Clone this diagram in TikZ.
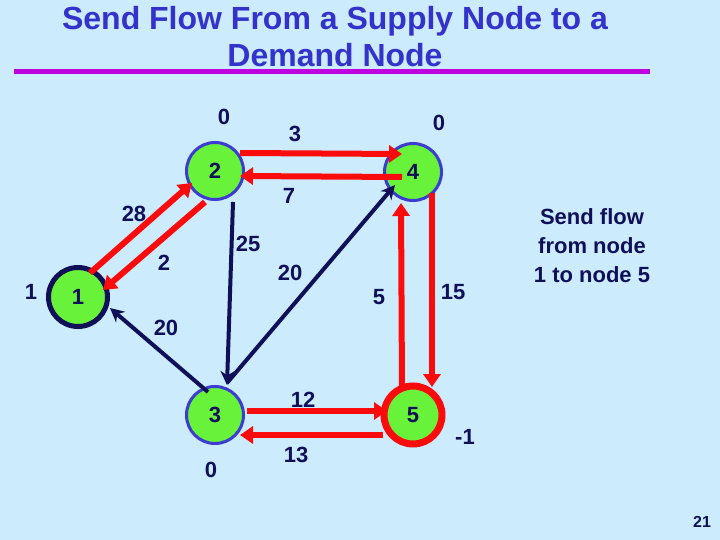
\documentclass[tikz,border=0pt]{standalone}
\usepackage{fontspec}
\setmainfont{Liberation Sans}
\usetikzlibrary{arrows.meta}
\definecolor{slidebg}{RGB}{204,235,252}
\definecolor{nodegreen}{RGB}{104,242,58}
\definecolor{nodeblue}{RGB}{60,60,210}
\definecolor{labelnavy}{RGB}{16,16,88}
\definecolor{flowred}{RGB}{250,12,12}
\definecolor{titleblue}{RGB}{51,51,204}
\definecolor{rulepurple}{RGB}{190,0,225}
\tikzset{
    netnode/.style={
        circle,
        fill=nodegreen,
        draw=nodeblue,
        line width=3bp,
        minimum size=57bp,
        inner sep=0pt,
        text=labelnavy,
        font=\fontsize{22bp}{26bp}\selectfont\bfseries
    },
    numlabel/.style={
        text=labelnavy,
        inner sep=1pt,
        font=\fontsize{22bp}{26bp}\selectfont\bfseries
    }
}

\begin{document}
\begin{tikzpicture}
[
    x=1bp,
    y=-1bp,
    flowarrow/.style={
        draw=flowred,
        line width=6bp,
        -{Triangle[length=13bp,width=17bp]}
    },
    arcarrow/.style={
        draw=labelnavy,
        line width=4bp,
        -{Stealth[length=14bp,width=14bp]}
    },
]
\useasboundingbox (0,0) rectangle (720,540);
\fill[slidebg] (0,0) rectangle (720,540);

% title
\node[text=titleblue, align=center, font=\fontsize{32bp}{37bp}\selectfont\bfseries]
    (title) at (335,37) {Send Flow From a Supply Node to a\\Demand Node};
\coordinate (ruleL) at (14,72);
\coordinate (ruleR) at (650,72);
\draw[rulepurple, line width=5bp] (ruleL) -- (ruleR);

% network
\node[netnode, draw=labelnavy, line width=5bp, minimum size=59bp] (v1) at (78,297) {1};
\node[netnode] (v2) at (215,171) {2};
\node[netnode] (v3) at (215,415) {3};
\node[netnode] (v4) at (413,172) {4};
\node[netnode, draw=flowred, line width=7bp, minimum size=58bp] (v5) at (413,415) {5};

% residual arcs
\draw[flowarrow] ([shift={(12,-24)}]v1.center) -- ([shift={(-23,12)}]v2.center);
\draw[flowarrow] ([shift={(-10,31)}]v2.center) -- ([shift={(25,-7)}]v1.center);
\draw[flowarrow] ([shift={(25,-18)}]v2.center) -- ([shift={(-11,-18)}]v4.center);
\draw[flowarrow] ([shift={(-11,5)}]v4.center) -- ([shift={(25,5)}]v2.center);
\draw[flowarrow] ([shift={(-11,-25)}]v5.center) -- ([shift={(-12,31)}]v4.center);
\draw[flowarrow] ([shift={(19,21)}]v4.center) -- ([shift={(19,-28)}]v5.center);
\draw[flowarrow] ([shift={(32,-4)}]v3.center) -- ([shift={(-26,-4)}]v5.center);
\draw[flowarrow] ([shift={(-30,20)}]v5.center) -- ([shift={(25,20)}]v3.center);
\draw[arcarrow] ([shift={(18,31)}]v2.center) -- ([shift={(12,-30)}]v3.center);
\draw[arcarrow] ([shift={(12,-32)}]v3.center) -- ([shift={(-18,13)}]v4.center);
\draw[arcarrow] ([shift={(-7,-23)}]v3.center) -- ([shift={(32,11)}]v1.center);

% arc values
\node[numlabel] (c28) at (134,214) {28};
\node[numlabel] (c2) at (164,263) {2};
\node[numlabel] (c3) at (295,134) {3};
\node[numlabel] (c7) at (289,196) {7};
\node[numlabel] (c25) at (248,244) {25};
\node[numlabel] (c20a) at (290,273) {20};
\node[numlabel] (c20b) at (166,328) {20};
\node[numlabel] (c5) at (379,297) {5};
\node[numlabel] (c15) at (453,292) {15};
\node[numlabel] (c12) at (303,400) {12};
\node[numlabel] (c13) at (296,455) {13};

% supplies
\node[numlabel] (b1) at (31,292) {1};
\node[numlabel] (b2) at (224,117) {0};
\node[numlabel] (b4) at (439,123) {0};
\node[numlabel] (b3) at (211,470) {0};
\node[numlabel] (b5) at (465,437) {-1};

% note
\node[numlabel, align=center, font=\fontsize{22bp}{29bp}\selectfont\bfseries]
    (note) at (592,246) {Send flow\\from node\\1 to node 5};
\node[numlabel, font=\fontsize{16bp}{19bp}\selectfont\bfseries] (pageno) at (702,522) {21};
\end{tikzpicture}
\end{document}
